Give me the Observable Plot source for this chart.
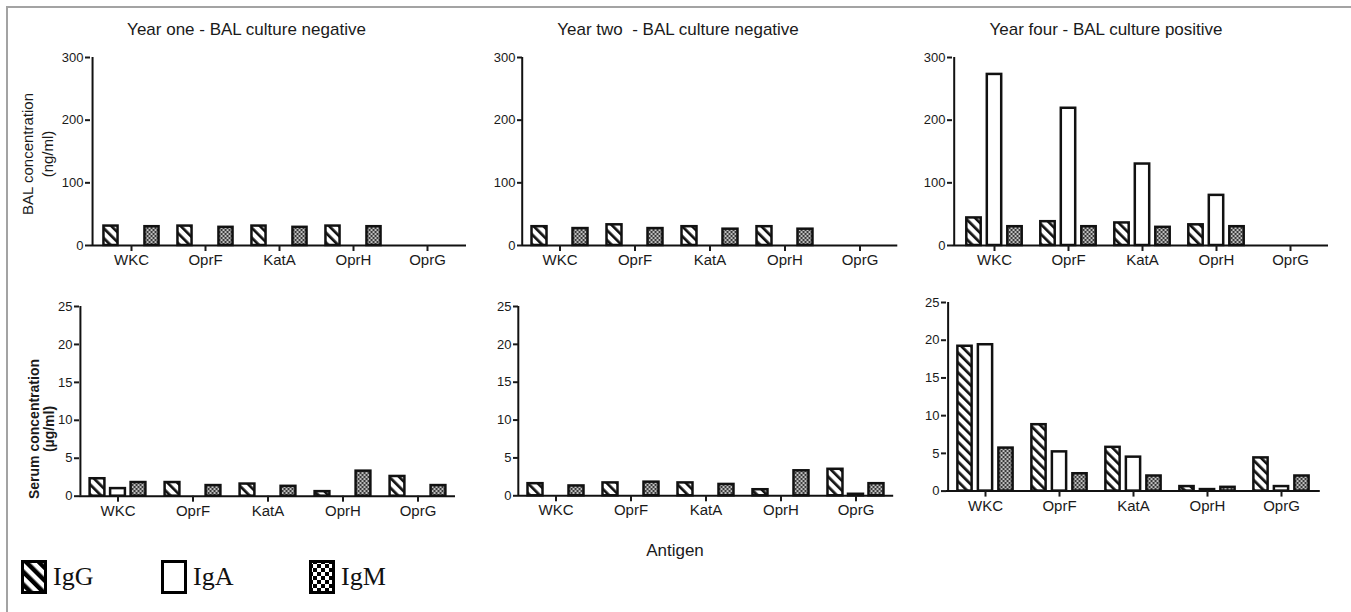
<!DOCTYPE html>
<html><head><meta charset="utf-8">
<script src="https://cdn.jsdelivr.net/npm/d3@7"></script>
<script src="https://cdn.jsdelivr.net/npm/@observablehq/plot@0.6"></script>
<style>
body{margin:0;background:#fff;font-family:"Liberation Sans",Arial,sans-serif;color:#222}
#fig{position:relative;width:1351px;height:612px;overflow:hidden;background:#fff}
.frameL{position:absolute;left:6px;top:6px;width:2px;height:620px;background:#a3a3a3}
.frameT{position:absolute;left:6px;top:6px;width:1360px;height:2px;background:#a3a3a3}
.ptitle{position:absolute;font-size:17px;white-space:pre;transform:translate(-50%,-50%);color:#1a1a1a}
.ylab{position:absolute;transform:translate(-50%,-50%) rotate(-90deg);text-align:center;white-space:nowrap;color:#1a1a1a}
.leg{position:absolute;display:flex;align-items:center;font-family:"Liberation Serif","Times New Roman",serif;font-size:26px;color:#111}
.leg svg{margin-right:6px}
</style></head><body>
<svg width="0" height="0" style="position:absolute">
<defs>
<pattern id="hatch" patternUnits="userSpaceOnUse" width="7" height="7" patternTransform="rotate(-45)">
<rect width="7" height="7" fill="#fff"/><rect width="2.7" height="7" fill="#111"/>
</pattern>
<pattern id="checker" patternUnits="userSpaceOnUse" width="4" height="4">
<rect width="4" height="4" fill="#3a3a3a"/><rect x="0.2" y="0.2" width="1.7" height="1.7" fill="#eeeeee"/><rect x="2.2" y="2.2" width="1.7" height="1.7" fill="#eeeeee"/>
</pattern>
<pattern id="hatchL" patternUnits="userSpaceOnUse" width="9" height="9" patternTransform="rotate(-45)">
<rect width="9" height="9" fill="#fff"/><rect width="4.5" height="9" fill="#000"/>
</pattern>
<pattern id="checkerL" patternUnits="userSpaceOnUse" width="8" height="8">
<rect width="8" height="8" fill="#000"/><rect width="4" height="4" fill="#fff"/><rect x="4" y="4" width="4" height="4" fill="#fff"/>
</pattern>
</defs>
</svg>
<div id="fig"><div class="frameL"></div><div class="frameT"></div></div>
<script>
// ---------- data ----------
const antigens = ["WKC", "OprF", "KatA", "OprH", "OprG"];
const isotypes = ["IgG", "IgA", "IgM"];
const panelTitles = ["Year one - BAL culture negative", "Year two  - BAL culture negative", "Year four - BAL culture positive"];
const balTicks = [0, 100, 200, 300];
const serumTicks = [0, 5, 10, 15, 20, 25];
const balLabel = ["BAL concentration", "(ng/ml)"];
const serumLabel = ["Serum concentration", "(\u00b5g/ml)"];
const xLabel = "Antigen";

// BAL concentration (ng/ml); order WKC, OprF, KatA, OprH, OprG; null = no bar
const balYear1IgG = [31, 31, 31, 31, null];
const balYear1IgA = [null, null, null, null, null];
const balYear1IgM = [30, 29, 29, 30, null];
const balYear2IgG = [30, 33, 30, 30, null];
const balYear2IgA = [null, null, null, null, null];
const balYear2IgM = [27, 27, 26, 26, null];
const balYear4IgG = [44, 38, 36, 33, null];
const balYear4IgA = [273, 219, 130, 80, null];
const balYear4IgM = [30, 30, 29, 30, null];
// Serum concentration (µg/ml)
const serumYear1IgG = [2.3, 1.8, 1.6, 0.6, 2.6];
const serumYear1IgA = [1.0, null, null, null, null];
const serumYear1IgM = [1.8, 1.4, 1.3, 3.3, 1.4];
const serumYear2IgG = [1.6, 1.7, 1.7, 0.8, 3.5];
const serumYear2IgA = [null, null, null, null, 0.2];
const serumYear2IgM = [1.3, 1.8, 1.5, 3.3, 1.6];
const serumYear4IgG = [19.2, 8.8, 5.8, 0.6, 4.4];
const serumYear4IgA = [19.4, 5.2, 4.5, 0.2, 0.6];
const serumYear4IgM = [5.7, 2.3, 2.0, 0.5, 2.0];

// ---------- layout ----------
const fig = document.getElementById("fig");
const FONT = "'Liberation Sans', Arial, sans-serif";
const fills = {IgG: "url(#hatch)", IgA: "#ffffff", IgM: "url(#checker)"};
const offsets = {IgG: -20.5, IgA: 0, IgM: 20.5};

function panel(cfg, series, ticks) {
  const rows = [];
  isotypes.forEach((iso, k) => series[k].forEach((v, i) => {
    if (v != null) rows.push({antigen: antigens[i], isotype: iso, value: v});
  }));
  const mL = 50, mR = 4, mT = 10, mB = 30;
  const inL = Math.max(0, cfg.bandStart - cfg.axisX);
  const width = (cfg.bandEnd - cfg.axisX) + mL + mR;
  const height = (cfg.y0 - cfg.yTop) + mT + mB;
  const bw = (cfg.bandEnd - cfg.axisX - inL) / antigens.length;
  const barW = 15;
  const inset = (bw - barW) / 2;
  const bars = isotypes.map(iso => Plot.barY(rows.filter(d => d.isotype === iso), {
    x: "antigen", y: "value", fill: fills[iso], stroke: "#111", strokeWidth: 2.5,
    insetLeft: inset, insetRight: inset, dx: offsets[iso]
  }));
  const svg = Plot.plot({
    width, height, marginLeft: mL, marginRight: mR, marginTop: mT, marginBottom: mB,
    style: {fontFamily: FONT, fontSize: "13px", color: "#1a1a1a", background: "transparent", overflow: "visible"},
    x: {domain: antigens, padding: 0, insetLeft: inL, label: null},
    y: {domain: [ticks[0], ticks[ticks.length - 1]], label: null},
    marks: [
      ...bars,
      Plot.ruleY([0], {stroke: "#111", strokeWidth: 2}),
      Plot.ruleX([antigens[0]], {y1: ticks[0], y2: ticks[ticks.length - 1], dx: -(inL + bw / 2), stroke: "#111", strokeWidth: 2}),
      Plot.axisY({ticks, tickSize: 5, tickPadding: 2, strokeWidth: 2, fontSize: 13, label: null}),
      Plot.axisX({tickSize: 6, tickPadding: 3, strokeWidth: 2, fontSize: 15, label: null})
    ]
  });
  svg.style.position = "absolute";
  svg.style.left = (cfg.axisX - mL) + "px";
  svg.style.top = (cfg.yTop - mT) + "px";
  fig.appendChild(svg);
}

const P = [
  {axisX: 90, bandStart: 91.5, bandEnd: 466, yTop: 57, y0: 245},
  {axisX: 521.7, bandStart: 522, bandEnd: 897, yTop: 57, y0: 245},
  {axisX: 952, bandStart: 955, bandEnd: 1328, yTop: 57, y0: 245},
  {axisX: 79, bandStart: 79, bandEnd: 455, yTop: 305.7, y0: 495.4},
  {axisX: 518.3, bandStart: 518.5, bandEnd: 893.5, yTop: 306, y0: 495.3},
  {axisX: 945.7, bandStart: 945.7, bandEnd: 1319.5, yTop: 301.7, y0: 490.3}
];

panel(P[0], [balYear1IgG, balYear1IgA, balYear1IgM], balTicks);
panel(P[1], [balYear2IgG, balYear2IgA, balYear2IgM], balTicks);
panel(P[2], [balYear4IgG, balYear4IgA, balYear4IgM], balTicks);
panel(P[3], [serumYear1IgG, serumYear1IgA, serumYear1IgM], serumTicks);
panel(P[4], [serumYear2IgG, serumYear2IgA, serumYear2IgM], serumTicks);
panel(P[5], [serumYear4IgG, serumYear4IgA, serumYear4IgM], serumTicks);

// titles
[[246.5, 30], [678, 30], [1106, 30]].forEach(([x, y], i) => {
  const d = document.createElement("div");
  d.className = "ptitle"; d.textContent = panelTitles[i];
  d.style.left = x + "px"; d.style.top = y + "px";
  fig.appendChild(d);
});

// y-axis labels
function ylab(lines, x, y, css) {
  const d = document.createElement("div");
  d.className = "ylab";
  d.style.left = x + "px"; d.style.top = y + "px";
  Object.assign(d.style, css);
  lines.forEach(t => { const s = document.createElement("div"); s.textContent = t; d.appendChild(s); });
  fig.appendChild(d);
}
ylab(balLabel, 38, 154, {fontSize: "15px", lineHeight: "20px"});
ylab(serumLabel, 42, 429, {fontSize: "14px", lineHeight: "15px", fontWeight: "bold"});

// x label
const xl = document.createElement("div");
xl.className = "ptitle"; xl.style.fontSize = "17px"; xl.textContent = xLabel;
xl.style.left = "675px"; xl.style.top = "551px";
fig.appendChild(xl);

// legend
const legFills = {IgG: "url(#hatchL)", IgA: "#fff", IgM: "url(#checkerL)"};
[[21, 578], [161, 578], [309, 578]].forEach(([x, y], i) => {
  const iso = isotypes[i];
  const d = document.createElement("div");
  d.className = "leg";
  d.style.left = x + "px"; d.style.top = (y - 18) + "px";
  d.innerHTML = `<svg width="26" height="34"><rect x="1.5" y="1.5" width="23" height="31" fill="${legFills[iso]}" stroke="#000" stroke-width="3"/></svg><span>${iso}</span>`;
  fig.appendChild(d);
});
</script>
</body></html>
